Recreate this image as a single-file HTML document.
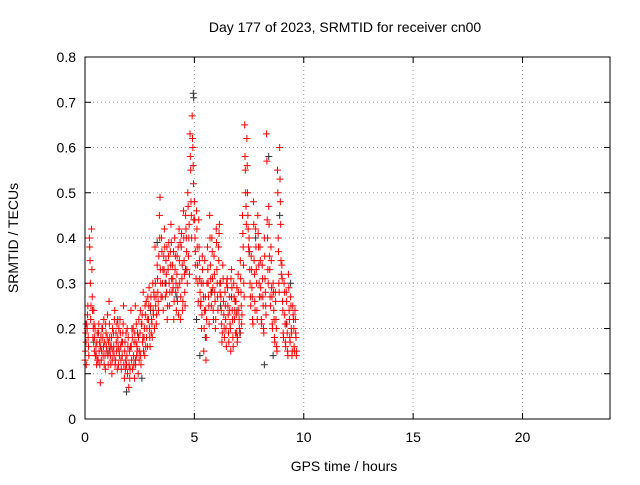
<!DOCTYPE html>
<html><head><meta charset="utf-8"><style>
body{margin:0;background:#fff}
svg{font-family:"Liberation Sans",sans-serif;font-size:14px}
</style></head><body>
<svg id="chart" width="640" height="480">
<rect width="640" height="480" fill="#fff"/>
<text x="345" y="32" text-anchor="middle">Day 177 of 2023, SRMTID for receiver cn00</text>
<text x="344" y="471" text-anchor="middle">GPS time / hours</text>
<text transform="translate(18,238) rotate(-90)" text-anchor="middle">SRMTID / TECUs</text>
<g id="grid"></g>
<g id="ticks"></g>
<g id="black"></g>
<g id="red"></g>
<rect x="85" y="57" width="525" height="362" fill="none" stroke="#000"/>
</svg>
<script>
const xTicks=[0,5,10,15,20];
const yTicks=[0,0.1,0.2,0.3,0.4,0.5,0.6,0.7,0.8];
const yTickLabels=["0","0.1","0.2","0.3","0.4","0.5","0.6","0.7","0.8"];
const redTimes=[0.0,0.1,0.2,0.3,0.4,0.5,0.6,0.7,0.8,0.9,1.0,1.1,1.2,1.3,1.4,1.5,1.6,1.7,1.8,1.9,2.0,2.1,2.2,2.3,2.4,2.5,2.6,2.7,2.8,2.9,3.0,3.1,3.2,3.3,3.4,3.5,3.6,3.7,3.8,3.9,4.0,4.1,4.2,4.3,4.4,4.5,4.6,4.7,4.8,4.9,5.0,5.1,5.2,5.3,5.4,5.5,5.6,5.7,5.8,5.9,6.0,6.1,6.2,6.3,6.4,6.5,6.6,6.7,6.8,6.9,7.0,7.1,7.2,7.3,7.4,7.5,7.6,7.7,7.8,7.9,8.0,8.1,8.2,8.3,8.4,8.5,8.6,8.7,8.8,8.9,9.0,9.1,9.2,9.3,9.4,9.5,9.6];
const redVals=[[.13,.19,.12],[.20,.25,.16],[.40,.35,.22],[.42,.27,.18],[.24,.15,.20],[.16,.12,.19],[.13,.21,.17],[.08,.18,.15],[.20,.14,.22],[.17,.11,.19],[.15,.23,.12],[.26,.18,.14],[.16,.10,.20],[.19,.14,.24],[.13,.17,.21],[.18,.12,.15],[.22,.16,.11],[.14,.19,.25],[.09,.17,.13],[.12,.20,.16],[.07,.15,.11],[.24,.13,.18],[.20,.12,.09],[.25,.17,.14],[.19,.10,.22],[.15,.24,.12],[.21,.17,.28],[.18,.14,.23],[.26,.20,.16],[.22,.29,.18],[.25,.19,.21],[.30,.23,.27],[.38,.25,.21],[.34,.28,.24],[.45,.49,.30],[.40,.27,.33],[.36,.42,.30],[.35,.28,.22],[.33,.39,.25],[.37,.43,.31],[.34,.29,.22],[.40,.36,.30],[.32,.26,.38],[.42,.30,.22],[.38,.31,.24],[.46,.35,.28],[.45,.40,.33],[.50,.36,.43],[.63,.55,.45],[.67,.60,.52],[.48,.40,.34],[.46,.38,.30],[.44,.35,.28],[.26,.20,.36],[.30,.15,.24],[.27,.13,.22],[.38,.30,.25],[.45,.34,.28],[.40,.31,.24],[.36,.28,.20],[.42,.33,.27],[.38,.41,.30],[.30,.24,.17],[.34,.26,.20],[.28,.22,.16],[.31,.25,.19],[.27,.21,.15],[.33,.24,.18],[.30,.22,.26],[.26,.19,.17],[.32,.24,.20],[.35,.28,.21],[.45,.38,.30],[.65,.55,.47],[.62,.50,.42],[.40,.33,.27],[.36,.29,.22],[.48,.35,.26],[.42,.33,.24],[.45,.38,.30],[.38,.29,.22],[.34,.27,.20],[.40,.31,.25],[.63,.44,.33],[.47,.36,.27],[.38,.29,.21],[.30,.24,.18],[.28,.22,.16],[.55,.40,.30],[.60,.48,.35],[.34,.26,.19],[.30,.23,.17],[.28,.21,.15],[.32,.24,.18],[.27,.20,.14],[.25,.22,.16],[.24,.19,.14]];
const redVals2=[[.15,.17,.21],[.23,.18,.14],[.38,.30,.25],[.33,.24,.20],[.21,.18,.14],[.14,.17,.13],[.19,.15,.12],[.16,.13,.20],[.18,.16,.12],[.14,.21,.16],[.18,.14,.17],[.21,.16,.12],[.18,.13,.15],[.16,.22,.12],[.19,.15,.11],[.16,.20,.14],[.19,.13,.17],[.17,.21,.12],[.15,.11,.19],[.14,.10,.18],[.12,.09,.16],[.16,.20,.11],[.14,.17,.19],[.12,.21,.16],[.15,.18,.13],[.19,.14,.21],[.23,.18,.15],[.20,.25,.16],[.18,.22,.27],[.25,.20,.16],[.27,.22,.18],[.24,.28,.20],[.30,.27,.23],[.31,.26,.36],[.40,.33,.27],[.37,.30,.24],[.33,.38,.27],[.32,.38,.25],[.36,.30,.28],[.34,.39,.28],[.31,.37,.26],[.33,.28,.24],[.36,.29,.23],[.35,.39,.27],[.41,.34,.26],[.40,.32,.25],[.42,.37,.30],[.47,.40,.32],[.58,.48,.40],[.62,.56,.44],[.44,.37,.31],[.42,.34,.26],[.38,.31,.25],[.30,.23,.33],[.27,.20,.35],[.24,.18,.30],[.33,.27,.21],[.40,.31,.25],[.37,.29,.22],[.32,.26,.22],[.39,.30,.24],[.35,.43,.28],[.27,.21,.19],[.31,.23,.18],[.25,.20,.30],[.29,.23,.17],[.24,.20,.31],[.29,.22,.16],[.27,.24,.19],[.23,.29,.18],[.28,.22,.19],[.31,.25,.23],[.41,.34,.27],[.58,.50,.43],[.56,.45,.38],[.37,.30,.25],[.33,.27,.21],[.43,.32,.24],[.38,.30,.22],[.41,.34,.27],[.35,.27,.21],[.31,.25,.19],[.36,.28,.23],[.57,.40,.30],[.43,.33,.25],[.35,.27,.20],[.28,.22,.17],[.26,.20,.15],[.50,.37,.28],[.53,.43,.32],[.31,.24,.18],[.28,.21,.16],[.26,.19,.14],[.29,.22,.17],[.25,.19,.15],[.23,.20,.15],[.22,.18,.15]];
const blackTimes=[0.05,0.4,1.1,1.9,2.3,2.6,3.3,3.7,4.2,4.6,4.95,4.97,5.1,5.5,5.8,6.2,6.7,7.1,7.5,7.8,8.2,8.4,8.6,8.9,9.2,9.4,5.25,3.0,1.5,6.95];
const blackVals=[.21,.17,.15,.06,.13,.09,.39,.30,.27,.33,.72,.71,.22,.18,.28,.25,.27,.19,.37,.40,.12,.58,.14,.45,.21,.30,.14,.24,.22,.24];
const X0=85,X1=610,Y0=419,Y1=57;
const sx=v=>X0+v/24*(X1-X0);
const sy=v=>Y0-v/0.8*(Y0-Y1);
const NS="http://www.w3.org/2000/svg";
function mk(tag,attrs,parent){const e=document.createElementNS(NS,tag);for(const k in attrs)e.setAttribute(k,attrs[k]);parent.appendChild(e);return e;}
const grid=document.getElementById('grid'),ticks=document.getElementById('ticks');
yTicks.forEach((v,i)=>{const y=sy(v);
 if(i>0&&i<yTicks.length-1){const l=mk('line',{x1:X0,x2:X1,y1:y,y2:y,stroke:'#a0a0a0','stroke-dasharray':'1,3'},grid);
 
 }
 const t=mk('text',{x:X0-9,y:y+5,'text-anchor':'end'},ticks);t.textContent=yTickLabels[i];
 
 
 mk('line',{x1:X0,x2:X0+6,y1:y,y2:y,stroke:'#000'},ticks);
 mk('line',{x1:X1,x2:X1-6,y1:y,y2:y,stroke:'#000'},ticks);
});
xTicks.forEach((v,i)=>{const x=sx(v);
 if(i>0){const l=mk('line',{x1:x,x2:x,y1:Y0,y2:Y1,stroke:'#a0a0a0','stroke-dasharray':'1,3'},grid);
 
 }
 const t=mk('text',{x:x,y:Y0+23,'text-anchor':'middle'},ticks);t.textContent=String(v);
 
 
 mk('line',{x1:x,x2:x,y1:Y0,y2:Y0-6,stroke:'#000'},ticks);
 mk('line',{x1:x,x2:x,y1:Y1,y2:Y1+6,stroke:'#000'},ticks);
});
function plus(g,t,v,c){const x=sx(t),y=sy(v);
 const p=mk('path',{d:`M${x-3.5} ${y}H${x+3.5}M${x} ${y-3.5}V${y+3.5}`,stroke:c,'stroke-width':1},g);
 
 }
const bg=document.getElementById('black');
blackTimes.forEach((t,i)=>plus(bg,t,blackVals[i],'#303030'));
const rg=document.getElementById('red');
redTimes.forEach((t,i)=>redVals[i].forEach((v,j)=>plus(rg,t+j*0.03,v,'#ff0000')));
redTimes.forEach((t,i)=>redVals2[i].forEach((v,j)=>plus(rg,t+0.015+j*0.03,v,'#ff0000')));
</script>
</body></html>
